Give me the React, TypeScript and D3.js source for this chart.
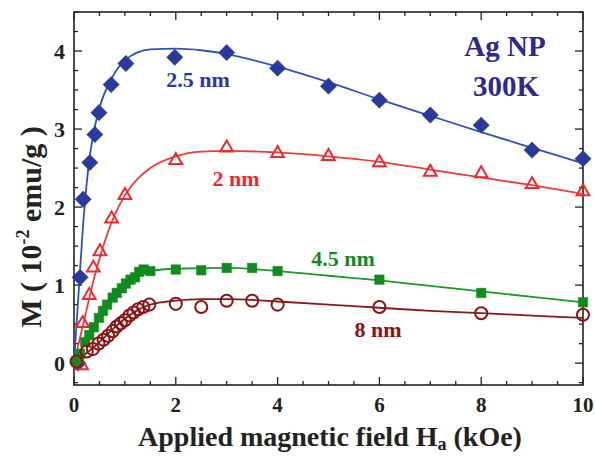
import React, { useRef, useEffect } from "react";
import * as d3 from "d3";

// measured points (H in kOe, M in 1e-2 emu/g)
const hBlue = [0.08, 0.12, 0.18, 0.31, 0.41, 0.49, 0.73, 1.02, 1.98, 3.0, 4.0, 5.0, 6.0, 7.0, 8.0, 9.0, 10.0];
const mBlue = [0.0, 1.1, 2.1, 2.57, 2.93, 3.21, 3.57, 3.84, 3.92, 3.98, 3.78, 3.55, 3.37, 3.18, 3.05, 2.73, 2.62];

const hRed = [0.15, 0.17, 0.3, 0.38, 0.51, 0.74, 1.0, 2.0, 3.0, 4.0, 5.0, 6.0, 7.0, 8.0, 9.0, 10.0];
const mRed = [-0.03, 0.51, 0.87, 1.22, 1.43, 1.85, 2.15, 2.6, 2.76, 2.69, 2.65, 2.57, 2.45, 2.43, 2.29, 2.2];

const hGreen = [0.05, 0.12, 0.22, 0.3, 0.39, 0.49, 0.57, 0.65, 0.76, 0.84, 0.94, 1.02, 1.11, 1.2, 1.28, 1.37, 1.5, 2.0, 2.5, 3.0, 3.5, 4.0, 6.0, 8.0, 10.0];
const mGreen = [0.02, 0.12, 0.27, 0.36, 0.46, 0.58, 0.67, 0.75, 0.84, 0.9, 0.96, 1.02, 1.07, 1.1, 1.17, 1.2, 1.18, 1.2, 1.19, 1.22, 1.22, 1.18, 1.07, 0.9, 0.78];

const hDark = [0.05, 0.25, 0.37, 0.48, 0.58, 0.67, 0.76, 0.84, 0.92, 1.0, 1.09, 1.17, 1.26, 1.36, 1.48, 2.0, 2.5, 3.0, 3.5, 4.0, 6.0, 8.0, 10.0];
const mDark = [0.02, 0.15, 0.18, 0.25, 0.3, 0.35, 0.41, 0.47, 0.51, 0.55, 0.61, 0.65, 0.69, 0.72, 0.75, 0.76, 0.72, 0.8, 0.8, 0.75, 0.72, 0.64, 0.62];

// fitted curves
const fitBlueH = [0, 0.1, 0.2, 0.3, 0.4, 0.5, 0.75, 1.0, 1.5, 2.0, 2.5, 3.0, 4.0, 5.0, 6.0, 7.0, 8.0, 9.0, 10.0];
const fitBlueM = [0, 1.0, 1.95, 2.6, 3.0, 3.27, 3.66, 3.88, 4.02, 4.03, 4.01, 3.96, 3.8, 3.6, 3.38, 3.17, 2.96, 2.76, 2.56];

const fitRedH = [0, 0.2, 0.4, 0.6, 0.8, 1.0, 1.5, 2.0, 2.5, 3.0, 4.0, 5.0, 6.0, 7.0, 8.0, 9.0, 10.0];
const fitRedM = [0, 0.55, 1.1, 1.55, 1.9, 2.15, 2.5, 2.65, 2.71, 2.72, 2.7, 2.65, 2.58, 2.48, 2.38, 2.28, 2.17];

const fitGreenH = [0, 0.25, 0.5, 0.75, 1.0, 1.25, 1.5, 2.0, 3.0, 4.0, 5.0, 6.0, 7.0, 8.0, 9.0, 10.0];
const fitGreenM = [0, 0.3, 0.6, 0.85, 1.02, 1.13, 1.18, 1.21, 1.22, 1.18, 1.12, 1.06, 0.99, 0.92, 0.85, 0.78];

const fitDarkH = [0, 0.25, 0.5, 0.75, 1.0, 1.25, 1.5, 2.0, 2.5, 3.0, 4.0, 5.0, 6.0, 7.0, 8.0, 9.0, 10.0];
const fitDarkM = [0, 0.13, 0.27, 0.43, 0.57, 0.68, 0.75, 0.8, 0.82, 0.82, 0.79, 0.75, 0.71, 0.67, 0.64, 0.61, 0.58];

const xTicks = [0, 2, 4, 6, 8, 10];
const yTicks = [0, 1, 2, 3, 4];

const FONT = "'Liberation Serif', 'Times New Roman', serif";

const App = () => {
  const svgRef = useRef<SVGSVGElement>(null);

  useEffect(() => {
    const svg = d3.select(svgRef.current);
    svg.selectAll("*").remove();

    const width = 595;
    const height = 457;
    const margin = { top: 12, right: 12, bottom: 72, left: 74 };

    const x = d3.scaleLinear().domain([0, 10]).range([margin.left, width - margin.right]);
    const y = d3.scaleLinear().domain([-0.28, 4.5]).range([height - margin.bottom, margin.top]);

    const x0 = x.range()[0], x1 = x.range()[1];
    const y0 = y.range()[0], y1 = y.range()[1];

    const g = svg.append("g");

    // ticks (inward on all four sides)
    const xMinor = d3.range(0, 10.01, 0.5);
    const yMinor = d3.range(-0.25, 4.51, 0.25);
    xMinor.forEach((v) => {
      const major = Math.abs(v % 2) < 1e-6;
      const len = major ? 8 : 4;
      g.append("line").attr("x1", x(v)).attr("x2", x(v)).attr("y1", y0).attr("y2", y0 - len).attr("stroke", "#222").attr("stroke-width", 1.3);
      g.append("line").attr("x1", x(v)).attr("x2", x(v)).attr("y1", y1).attr("y2", y1 + len).attr("stroke", "#222").attr("stroke-width", 1.3);
    });
    yMinor.forEach((v) => {
      const major = Math.abs(v - Math.round(v)) < 1e-6;
      const len = major ? 8 : 4;
      g.append("line").attr("x1", x0).attr("x2", x0 + len).attr("y1", y(v)).attr("y2", y(v)).attr("stroke", "#222").attr("stroke-width", 1.3);
      g.append("line").attr("x1", x1).attr("x2", x1 - len).attr("y1", y(v)).attr("y2", y(v)).attr("stroke", "#222").attr("stroke-width", 1.3);
    });

    // frame
    g.append("rect")
      .attr("x", x0).attr("y", y1)
      .attr("width", x1 - x0).attr("height", y0 - y1)
      .attr("fill", "none").attr("stroke", "#222").attr("stroke-width", 1.6);

    // tick labels
    g.selectAll(".xl").data(xTicks).enter().append("text")
      .attr("x", (d) => x(d)).attr("y", y0 + 27)
      .attr("text-anchor", "middle")
      .attr("font-family", FONT).attr("font-weight", "bold").attr("font-size", 21)
      .attr("fill", "#222").text((d) => d);
    g.selectAll(".yl").data(yTicks).enter().append("text")
      .attr("x", x0 - 9).attr("y", (d) => y(d) + 8)
      .attr("text-anchor", "end")
      .attr("font-family", FONT).attr("font-weight", "bold").attr("font-size", 22)
      .attr("fill", "#222").text((d) => d);

    // axis titles
    const xt = g.append("text")
      .attr("x", 330).attr("y", 446)
      .attr("text-anchor", "middle")
      .attr("font-family", FONT).attr("font-weight", "bold").attr("font-size", 28)
      .attr("fill", "#222");
    xt.append("tspan").text("Applied magnetic field H");
    xt.append("tspan").attr("font-size", 18).attr("dy", 4).text("a");
    xt.append("tspan").attr("dy", -4).text(" (kOe)");

    const yt = g.append("text")
      .attr("transform", "translate(41,227) rotate(-90)")
      .attr("text-anchor", "middle")
      .attr("font-family", FONT).attr("font-weight", "bold").attr("font-size", 30)
      .attr("fill", "#222");
    yt.append("tspan").text("M ( 10");
    yt.append("tspan").attr("font-size", 18).attr("dy", -12).text("-2");
    yt.append("tspan").attr("dy", 12).text(" emu/g )");

    const line = d3.line<[number, number]>().x((d) => x(d[0])).y((d) => y(d[1])).curve(d3.curveMonotoneX);

    const series = [
      { fh: fitBlueH, fm: fitBlueM, h: hBlue, m: mBlue, line: "#3050c0", mark: "#2a3a9a", sym: d3.symbolDiamond2, size: 170, fill: true },
      { fh: fitRedH, fm: fitRedM, h: hRed, m: mRed, line: "#f03a3a", mark: "#ee2a2a", sym: d3.symbolTriangle2, size: 115, fill: false },
      { fh: fitGreenH, fm: fitGreenM, h: hGreen, m: mGreen, line: "#1a9a2a", mark: "#138a1f", sym: d3.symbolSquare2, size: 115, fill: true },
      { fh: fitDarkH, fm: fitDarkM, h: hDark, m: mDark, line: "#8a1818", mark: "#8a1414", sym: d3.symbolCircle, size: 115, fill: false },
    ];

    series.forEach((s) => {
      const pts = s.fh.map((h, i) => [h, s.fm[i]] as [number, number]);
      g.append("path").attr("d", line(pts)).attr("fill", "none").attr("stroke", s.line).attr("stroke-width", 1.8);
    });

    series.forEach((s) => {
      const sym = d3.symbol().type(s.sym).size(s.size);
      g.selectAll(null).data(s.h.map((h, i) => [h, s.m[i]])).enter().append("path")
        .attr("d", sym)
        .attr("transform", (d) => `translate(${x(d[0])},${y(d[1])})`)
        .attr("fill", s.fill ? s.mark : "white")
        .attr("fill-opacity", s.fill ? 1 : 0)
        .attr("stroke", s.mark)
        .attr("stroke-width", s.fill ? 0.5 : 2);
    });

    // curve labels
    const labels = [
      { t: "2.5 nm", x: 198, y: 87, c: "#2b3aa8", s: 22 },
      { t: "2 nm", x: 236, y: 186, c: "#ee2a2a", s: 22 },
      { t: "4.5 nm", x: 343, y: 266, c: "#138a1f", s: 22 },
      { t: "8 nm", x: 378, y: 337, c: "#8a1414", s: 22 },
      { t: "Ag NP", x: 505, y: 56, c: "#2e2a8a", s: 29 },
      { t: "300K", x: 506, y: 96, c: "#2e2a8a", s: 29 },
    ];
    labels.forEach((l) => {
      g.append("text").attr("x", l.x).attr("y", l.y).attr("text-anchor", "middle")
        .attr("font-family", FONT).attr("font-weight", "bold").attr("font-size", l.s)
        .attr("fill", l.c).text(l.t);
    });
  }, []);

  return (
    <svg ref={svgRef} width={595} height={457} style={{ position: "absolute", left: 0, top: 0, background: "white" }}></svg>
  );
};

export default App;
